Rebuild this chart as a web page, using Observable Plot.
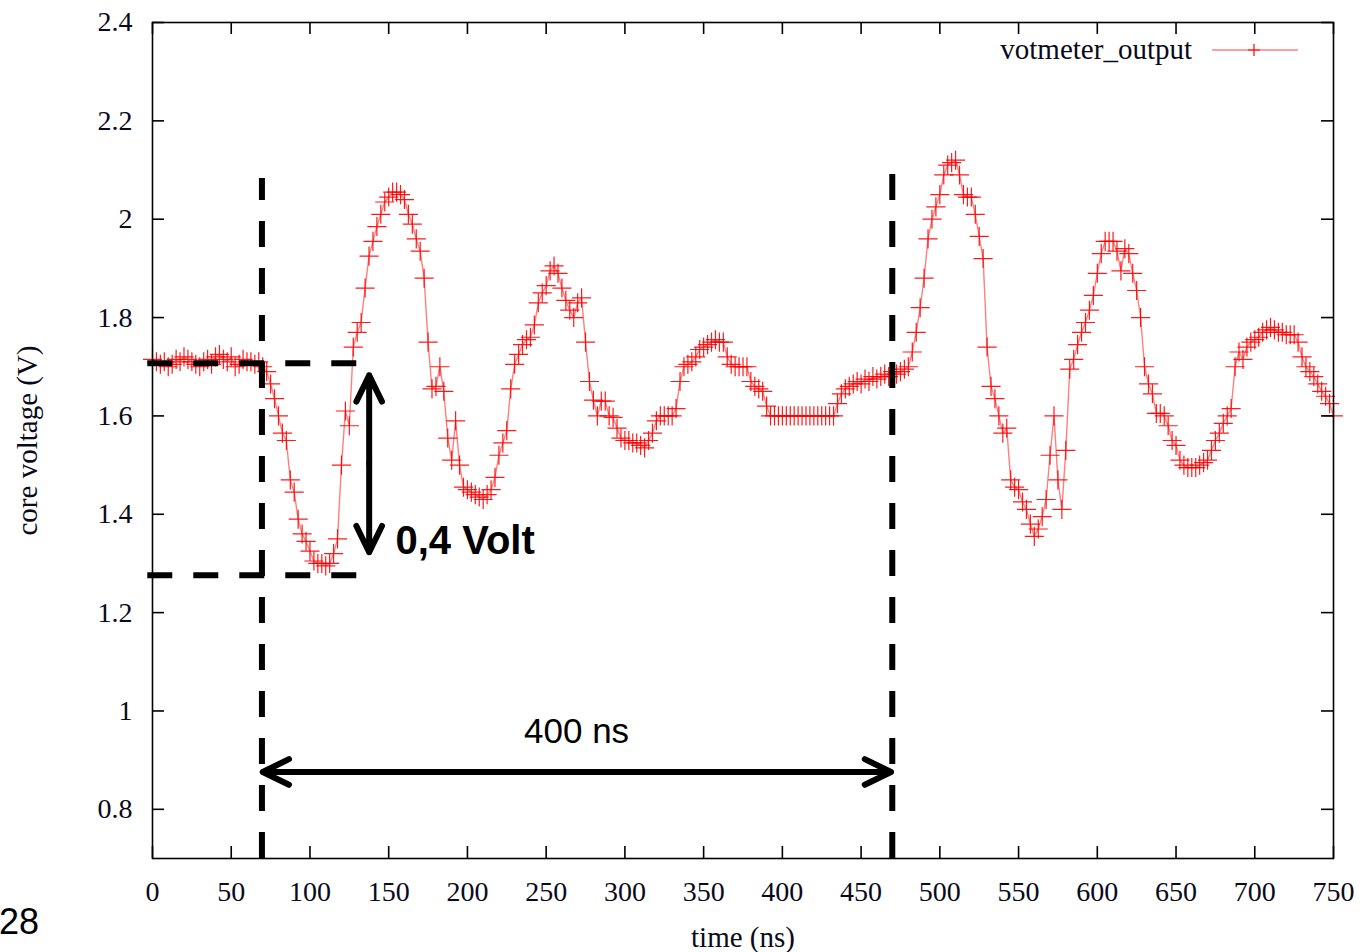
<!DOCTYPE html>
<html>
<head>
<meta charset="utf-8">
<script src="https://cdn.jsdelivr.net/npm/d3@7"></script>
<script src="https://cdn.jsdelivr.net/npm/@observablehq/plot@0.6"></script>
<style>
  body { margin: 0; background: #fff; }
  #wrap { position: relative; width: 1365px; height: 952px; overflow: hidden; background: #fff; }
  #legendText { position: absolute; right: 173px; top: 35px; font: 29px/29px "Liberation Serif", "Times New Roman", serif; color: #0a0a1a; white-space: nowrap; }
  #legendSample { position: absolute; left: 1212px; top: 40px; }
  #pageNo { position: absolute; left: -1px; top: 904px; font: 36px/36px "Liberation Sans", Arial, sans-serif; color: #000; }
</style>
</head>
<body>
<div id="wrap"></div>
<script>
// ---- data ----
// samples every 2.5 ns, from 0 to 750 ns
const sampleStep = 2.5;
const voltage = [
  // 0 .. 22.5
  1.715, 1.71, 1.705, 1.71, 1.70, 1.705, 1.715, 1.71, 1.72, 1.715,
  // 25 .. 47.5
  1.71, 1.705, 1.70, 1.71, 1.715, 1.705, 1.72, 1.725, 1.715, 1.71,
  // 50 .. 72.5
  1.72, 1.70, 1.705, 1.715, 1.71, 1.71, 1.705, 1.71, 1.70, 1.69,
  // 75 .. 97.5
  1.665, 1.635, 1.60, 1.565, 1.55, 1.47, 1.445, 1.39, 1.36, 1.345,
  // 100 .. 122.5
  1.325, 1.305, 1.30, 1.30, 1.295, 1.30, 1.32, 1.35, 1.50, 1.61,
  // 125 .. 147.5
  1.58, 1.74, 1.77, 1.79, 1.86, 1.925, 1.955, 1.985, 2.01, 2.035,
  // 150 .. 172.5
  2.045, 2.055, 2.055, 2.05, 2.04, 2.01, 1.99, 1.96, 1.935, 1.88,
  // 175 .. 197.5
  1.75, 1.655, 1.66, 1.70, 1.65, 1.555, 1.51, 1.59, 1.50, 1.455,
  // 200 .. 222.5
  1.45, 1.445, 1.44, 1.435, 1.43, 1.44, 1.45, 1.475, 1.52, 1.545,
  // 225 .. 247.5
  1.57, 1.655, 1.705, 1.725, 1.745, 1.755, 1.76, 1.785, 1.83, 1.85,
  // 250 .. 272.5
  1.865, 1.895, 1.905, 1.89, 1.86, 1.835, 1.815, 1.80, 1.83, 1.84,
  // 275 .. 297.5
  1.75, 1.67, 1.632, 1.60, 1.63, 1.63, 1.60, 1.597, 1.575, 1.555,
  // 300 .. 322.5
  1.55, 1.55, 1.545, 1.545, 1.54, 1.535, 1.55, 1.565, 1.59, 1.60,
  // 325 .. 347.5
  1.60, 1.60, 1.60, 1.615, 1.67, 1.70, 1.705, 1.71, 1.72, 1.735,
  // 350 .. 372.5
  1.74, 1.745, 1.75, 1.755, 1.75, 1.75, 1.72, 1.705, 1.70, 1.70,
  // 375 .. 397.5
  1.70, 1.70, 1.67, 1.66, 1.655, 1.65, 1.62, 1.60, 1.60, 1.60,
  // 400 .. 422.5
  1.60, 1.60, 1.60, 1.60, 1.60, 1.60, 1.60, 1.60, 1.60, 1.60,
  // 425 .. 447.5
  1.60, 1.60, 1.60, 1.60, 1.625, 1.645, 1.655, 1.66, 1.665, 1.67,
  // 450 .. 472.5
  1.665, 1.675, 1.67, 1.68, 1.675, 1.68, 1.685, 1.68, 1.69, 1.685,
  // 475 .. 497.5
  1.69, 1.695, 1.70, 1.73, 1.77, 1.82, 1.88, 1.96, 2.00, 2.025,
  // 500 .. 522.5
  2.05, 2.09, 2.11, 2.115, 2.12, 2.09, 2.05, 2.045, 2.045, 2.01,
  // 525 .. 547.5
  1.965, 1.92, 1.74, 1.66, 1.635, 1.60, 1.565, 1.575, 1.47, 1.455,
  // 550 .. 572.5
  1.45, 1.425, 1.41, 1.38, 1.355, 1.37, 1.395, 1.43, 1.52, 1.60,
  // 575 .. 597.5
  1.47, 1.41, 1.53, 1.695, 1.715, 1.745, 1.77, 1.79, 1.815, 1.845,
  // 600 .. 622.5
  1.89, 1.93, 1.955, 1.955, 1.955, 1.935, 1.895, 1.94, 1.93, 1.89,
  // 625 .. 647.5
  1.855, 1.80, 1.70, 1.665, 1.645, 1.605, 1.605, 1.60, 1.58, 1.55,
  // 650 .. 672.5
  1.54, 1.51, 1.50, 1.495, 1.495, 1.495, 1.50, 1.505, 1.51, 1.53,
  // 675 .. 697.5
  1.55, 1.565, 1.585, 1.60, 1.615, 1.70, 1.73, 1.715, 1.74, 1.75,
  // 700 .. 722.5
  1.755, 1.76, 1.77, 1.775, 1.78, 1.775, 1.77, 1.77, 1.765, 1.765,
  // 725 .. 747.5
  1.765, 1.75, 1.72, 1.70, 1.69, 1.68, 1.665, 1.65, 1.64, 1.625,
  // 750
  1.60
];
const time = voltage.map((_, i) => i * sampleStep);

const xTicks = [0, 50, 100, 150, 200, 250, 300, 350, 400, 450, 500, 550, 600, 650, 700, 750];
const yTicks = [0.8, 1.0, 1.2, 1.4, 1.6, 1.8, 2.0, 2.2, 2.4];
const xDomain = [0, 750];
const yDomain = [0.7, 2.4];

// annotation values (ns / volts)
const markerTimes = [69.5, 469.8];     // vertical dashed lines
const markerTops = [2.083, 2.095];
const refLevels = [1.707, 1.276];      // horizontal dashed lines
const refSpan = [-3, 132];
const spanTimes = [70, 469];           // 400 ns double arrow
const spanLevel = 0.876;
const dropTime = 137.6;                // 0,4 Volt double arrow
const dropLevels = [1.6825, 1.3228];
const voltNote = [{t: 154.3, v: 1.345, text: "0,4 Volt"}];
const timeNote = [{t: 269.3, v: 0.9586, text: "400 ns"}];
const seriesName = "votmeter_output";
const xLabel = "time (ns)";
const yLabel = "core voltage (V)";
const pageNumber = "28";

// ---- build ----
const W = 1365, H = 952;
const mL = 152, mR = 32, mT = 22, mB = 94;
const innerW = W - mL - mR, innerH = H - mT - mB;
const tickLen = 12;

const series = time.map((t, i) => ({t, v: voltage[i]}));
const spanMid = (spanTimes[0] + spanTimes[1]) / 2;
const dropMid = (dropLevels[0] + dropLevels[1]) / 2;
const arrows = [
  ...spanTimes.map(t => ({x1: spanMid, y1: spanLevel, x2: t, y2: spanLevel})),
  ...dropLevels.map(v => ({x1: dropTime, y1: dropMid, x2: dropTime, y2: v}))
];
const markers = markerTimes.map((t, i) => ({t, bottom: yDomain[0], top: markerTops[i]}));
const fmt = d => String(+d.toFixed(1));
const serif = "Liberation Serif, Times New Roman, serif";
const sans = "Liberation Sans, Arial, sans-serif";

const chart = Plot.plot({
  width: W, height: H,
  marginLeft: mL, marginRight: mR, marginTop: mT, marginBottom: mB,
  style: {fontFamily: serif, fontSize: "28px", background: "#fff", color: "#0a0a1a"},
  x: {domain: xDomain},
  y: {domain: yDomain},
  marks: [
    // data
    Plot.line(series, {x: "t", y: "v", stroke: "#ff0000", strokeOpacity: 0.5, strokeWidth: 1.4}),
    Plot.dot(series, {x: "t", y: "v", symbol: "plus", r: 6.2, stroke: "#ff0000", strokeWidth: 1.2, strokeOpacity: 0.9}),
    // annotations
    Plot.ruleX(markers, {x: "t", y1: "bottom", y2: "top", stroke: "#000", strokeWidth: 6, strokeDasharray: "26,21"}),
    Plot.ruleY(refLevels, {y: d => d, x1: () => refSpan[0], x2: () => refSpan[1], stroke: "#000", strokeWidth: 6, strokeDasharray: "25,21"}),
    Plot.arrow(arrows, {x1: "x1", y1: "y1", x2: "x2", y2: "y2", stroke: "#000", strokeWidth: 6, headLength: 7.3, headAngle: 52, strokeLinecap: "round", strokeLinejoin: "round"}),
    Plot.text(voltNote, {x: "t", y: "v", text: "text", fontWeight: "bold", fontSize: 40, textAnchor: "start", fontFamily: sans, fill: "#000", lineAnchor: "middle"}),
    Plot.text(timeNote, {x: "t", y: "v", text: "text", fontWeight: "normal", fontSize: 35, textAnchor: "middle", fontFamily: sans, fill: "#000", lineAnchor: "middle"}),
    // frame and inward ticks on all four sides
    Plot.frame({stroke: "#000", strokeWidth: 1.6}),
    Plot.ruleX(xTicks, {x: d => d, insetTop: innerH - tickLen, stroke: "#000", strokeWidth: 1.6}),
    Plot.ruleX(xTicks, {x: d => d, insetBottom: innerH - tickLen, stroke: "#000", strokeWidth: 1.6}),
    Plot.ruleY(yTicks, {y: d => d, insetRight: innerW - tickLen, stroke: "#000", strokeWidth: 1.6}),
    Plot.ruleY(yTicks, {y: d => d, insetLeft: innerW - tickLen, stroke: "#000", strokeWidth: 1.6}),
    // tick labels
    Plot.axisX(xTicks, {anchor: "bottom", tickSize: 0, tickPadding: 23, label: null, fontSize: 28, tickFormat: fmt}),
    Plot.axisY(yTicks, {anchor: "left", tickSize: 0, tickPadding: 20, label: null, fontSize: 28, tickFormat: fmt}),
    // axis titles
    Plot.text([xLabel], {text: d => d, frameAnchor: "bottom", dy: 79, textAnchor: "middle", lineAnchor: "middle", fontSize: 29}),
    Plot.text([yLabel], {text: d => d, frameAnchor: "left", dx: -125, rotate: -90, textAnchor: "middle", lineAnchor: "middle", fontSize: 29})
  ]
});

const wrap = document.getElementById("wrap");
wrap.appendChild(chart);

// legend
const lt = document.createElement("div");
lt.id = "legendText";
lt.textContent = seriesName;
wrap.appendChild(lt);
const ls = document.createElementNS("http://www.w3.org/2000/svg", "svg");
ls.id = "legendSample";
ls.setAttribute("width", "86");
ls.setAttribute("height", "20");
ls.innerHTML = '<line x1="0" y1="10" x2="86" y2="10" stroke="#ff0000" stroke-opacity="0.5" stroke-width="1.6"/>' +
  '<path d="M36,10H48M42,4V16" stroke="#ff0000" stroke-width="1.2"/>';
wrap.appendChild(ls);

// slide number
const pn = document.createElement("div");
pn.id = "pageNo";
pn.textContent = pageNumber;
wrap.appendChild(pn);
</script>
</body>
</html>
